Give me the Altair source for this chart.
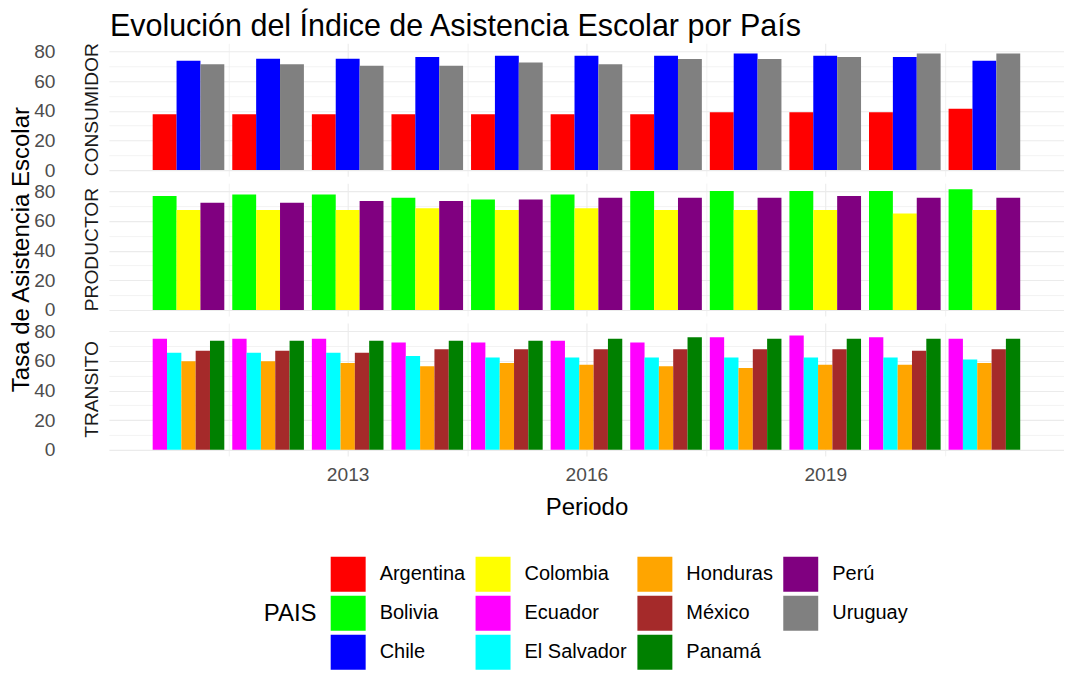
import altair as alt
import pandas as pd

FONT = "Liberation Sans"

YEARS = list(range(2011, 2022))

# CONSUMIDOR
ARGENTINA = [37.6, 37.6, 37.6, 37.6, 37.6, 37.6, 37.6, 39.0, 39.0, 39.0, 41.3]
CHILE = [73.7, 75.1, 75.1, 76.2, 77.1, 77.1, 77.1, 78.5, 77.1, 76.2, 73.7]
URUGUAY = [71.4, 71.4, 70.3, 70.3, 72.6, 71.4, 74.8, 74.8, 76.2, 78.5, 78.5]
# PRODUCTOR
BOLIVIA = [76.8, 77.9, 77.9, 75.7, 74.5, 77.9, 80.2, 80.2, 80.2, 80.2, 81.4]
COLOMBIA = [67.4, 67.4, 67.4, 68.6, 67.4, 68.6, 67.4, 67.4, 67.4, 65.1, 67.4]
PERU = [72.2, 72.2, 73.4, 73.4, 74.5, 75.7, 75.7, 75.7, 76.8, 75.7, 75.7]
# TRANSITO
ECUADOR = [74.8, 74.8, 74.8, 72.3, 72.3, 73.6, 72.3, 75.9, 77.0, 75.9, 74.8]
EL_SALVADOR = [65.5, 65.5, 65.5, 63.3, 62.2, 62.2, 62.2, 62.2, 62.2, 62.2, 60.8]
HONDURAS = [59.7, 59.7, 58.6, 56.3, 58.6, 57.4, 56.3, 55.2, 57.4, 57.4, 58.6]
MEXICO = [66.7, 66.7, 65.5, 67.8, 67.8, 67.8, 67.8, 67.8, 67.8, 66.7, 67.8]
PANAMA = [73.6, 73.6, 73.6, 73.6, 73.6, 74.8, 75.9, 74.8, 74.8, 74.8, 74.8]

SERIES = {
    "Argentina": ("CONSUMIDOR", ARGENTINA),
    "Chile": ("CONSUMIDOR", CHILE),
    "Uruguay": ("CONSUMIDOR", URUGUAY),
    "Bolivia": ("PRODUCTOR", BOLIVIA),
    "Colombia": ("PRODUCTOR", COLOMBIA),
    "Perú": ("PRODUCTOR", PERU),
    "Ecuador": ("TRANSITO", ECUADOR),
    "El Salvador": ("TRANSITO", EL_SALVADOR),
    "Honduras": ("TRANSITO", HONDURAS),
    "México": ("TRANSITO", MEXICO),
    "Panamá": ("TRANSITO", PANAMA),
}

COLORS = {
    "Argentina": "#FF0000", "Bolivia": "#00FF00", "Chile": "#0000FF",
    "Colombia": "#FFFF00", "Ecuador": "#FF00FF", "El Salvador": "#00FFFF",
    "Honduras": "#FFA500", "México": "#A52A2A", "Panamá": "#008000",
    "Perú": "#800080", "Uruguay": "#808080",
}
LEGEND_ORDER = ["Argentina", "Bolivia", "Chile", "Colombia", "Ecuador", "El Salvador",
                "Honduras", "México", "Panamá", "Perú", "Uruguay"]

rows = []
for pais, (grupo, vals) in SERIES.items():
    for anio, v in zip(YEARS, vals):
        rows.append({"grupo": grupo, "pais": pais, "anio": anio, "valor": v})
df = pd.DataFrame(rows)

W, H = 956, 133
color_scale = alt.Scale(domain=LEGEND_ORDER, range=[COLORS[c] for c in LEGEND_ORDER])
x_scale = alt.Scale(domain=[2010.0, 2022.0], nice=False, zero=False)
y_scale = alt.Scale(domain=[-4.07, 85.47], nice=False, zero=False)

grid_w = {"condition": {"test": "datum.value % 1 != 0", "value": 0.6}, "value": 1.1}
grid_wy = {"condition": {"test": "datum.value % 20 != 0", "value": 0.6}, "value": 1.1}

legend = alt.Legend(
    orient="none", legendX=155, legendY=514, columns=4, title="PAIS",
    titleOrient="left", titleAnchor="middle", titleFontSize=24, titleFontWeight="normal",
    titleColor="#000000", titleFont=FONT, titlePadding=14,
    symbolType="square", symbolSize=1225, symbolStrokeWidth=0,
    labelFontSize=20, labelFont=FONT, labelColor="#000000", labelOffset=14,
    rowPadding=4, columnPadding=10, labelLimit=0,
)


def make_panel(grupo, bottom=False, ytitle=False):
    if bottom:
        xaxis = alt.Axis(values=[2011.5, 2013, 2014.5, 2016, 2017.5, 2019, 2020.5], format="d",
                         labelExpr="datum.value % 1 == 0 ? datum.label : ''",
                         ticks=False, domain=False, labelPadding=10, labelFontSize=19.2,
                         labelColor="#4D4D4D", title="Periodo", titleFontSize=24,
                         titleFontWeight="normal", titleColor="#000000", titlePadding=10,
                         gridColor="#EBEBEB", gridWidth=grid_w)
    else:
        xaxis = alt.Axis(values=[2011.5, 2013, 2014.5, 2016, 2017.5, 2019, 2020.5],
                         labels=False, ticks=False, domain=False, title=None,
                         gridColor="#EBEBEB", gridWidth=grid_w)
    yaxis = alt.Axis(values=[0, 10, 20, 30, 40, 50, 60, 70, 80],
                     labelExpr="datum.value % 20 == 0 ? datum.label : ''",
                     ticks=False, tickSize=0, domain=False, labelPadding=54,
                     labelFontSize=19.2, labelColor="#4D4D4D", title=None,
                     gridColor="#EBEBEB", gridWidth=grid_wy)
    bars = alt.Chart(df).transform_filter(
        alt.datum.grupo == grupo
    ).transform_window(
        rank="dense_rank()", groupby=["anio"], sort=[alt.SortField("pais", order="ascending")]
    ).transform_joinaggregate(
        n="distinct(pais)", groupby=["anio"]
    ).transform_calculate(
        x0="datum.anio - 0.45 + (datum.rank - 1) * 0.9 / datum.n",
        x1="datum.anio - 0.45 + datum.rank * 0.9 / datum.n",
    ).mark_bar().encode(
        x=alt.X("x0:Q", scale=x_scale, axis=xaxis),
        x2="x1:Q",
        y=alt.Y("valor:Q", scale=y_scale, axis=yaxis),
        y2=alt.datum(0),
        color=alt.Color("pais:N", scale=color_scale, legend=legend),
    )
    strip = alt.Chart(alt.Data(values=[{"t": grupo}])).mark_text(
        angle=270, fontSize=19.2, font=FONT, color="#1A1A1A", align="center", baseline="middle"
    ).encode(text="t:N", x=alt.value(-17), y=alt.value(H / 2))
    layers = [bars, strip]
    if ytitle:
        yt = alt.Chart(alt.Data(values=[{"t": "Tasa de Asistencia Escolar"}])).mark_text(
            angle=270, fontSize=24, font=FONT, color="#000000", align="center", baseline="middle"
        ).encode(text="t:N", x=alt.value(-87), y=alt.value(H / 2))
        layers.append(yt)
    return alt.layer(*layers).properties(width=W, height=H)


chart = alt.vconcat(
    make_panel("CONSUMIDOR"),
    make_panel("PRODUCTOR", ytitle=True),
    make_panel("TRANSITO", bottom=True),
    spacing=7, bounds="flush",
).properties(
    title=alt.TitleParams("Evolución del Índice de Asistencia Escolar por País", anchor="start",
                          fontSize=30.5, fontWeight="normal", font=FONT, color="#000000",
                          dx=100, offset=0),
    padding={"left": 2, "top": 3, "right": 0, "bottom": 0},
).configure(
    font=FONT, view=alt.ViewConfig(strokeWidth=0, stroke="transparent")
)

chart.save("out.html", embed_options={"renderer": "svg", "actions": False})
